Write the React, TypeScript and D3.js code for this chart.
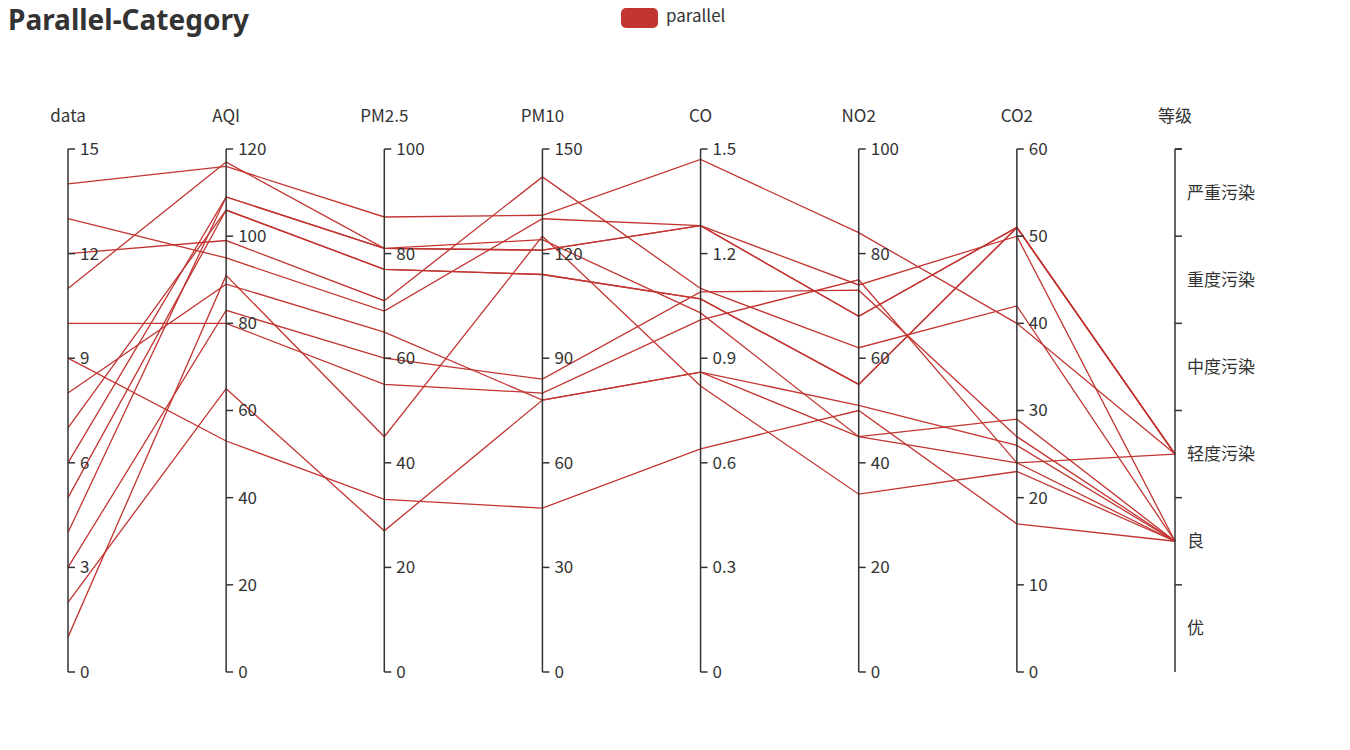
import React from 'react';
import * as d3 from 'd3';

const W = 1350;
const H = 750;

const dims = ['data', 'AQI', 'PM2.5', 'PM10', 'CO', 'NO2', 'CO2', '等级'];
const grades = ['优', '良', '轻度污染', '中度污染', '重度污染', '严重污染'];

const dayIdx = [1, 2, 3, 4, 5, 6, 7, 8, 9, 10, 11, 12, 13, 14];
const aqi = [91, 65, 83, 109, 106, 109, 106, 89, 53, 80, 117, 99, 95, 116];
const pm25 = [45, 27, 60, 81, 77, 81, 77, 65, 33, 55, 81, 71, 69, 87];
const pm10 = [125, 78, 84, 121, 114, 121, 114, 78, 47, 80, 124, 142, 130, 131];
const co = [0.82, 0.86, 1.09, 1.28, 1.07, 1.28, 1.07, 0.86, 0.64, 1.01, 1.03, 1.1, 1.28, 1.47];
const no2 = [34, 45, 73, 68, 55, 68, 55, 51, 50, 75, 45, 62, 74, 84];
const co2 = [23, 29, 27, 51, 51, 51, 51, 26, 17, 24, 24, 42, 50, 40];
const grade = ['良', '良', '良', '轻度污染', '轻度污染', '轻度污染', '轻度污染', '良', '良', '良', '轻度污染', '良', '良', '轻度污染'];

const maxes = [15, 120, 100, 150, 1.5, 100, 60];
const tickVals = [
  [0, 3, 6, 9, 12, 15],
  [0, 20, 40, 60, 80, 100, 120],
  [0, 20, 40, 60, 80, 100],
  [0, 30, 60, 90, 120, 150],
  [0, 0.3, 0.6, 0.9, 1.2, 1.5],
  [0, 20, 40, 60, 80, 100],
  [0, 10, 20, 30, 40, 50, 60],
];

const numeric = [dayIdx, aqi, pm25, pm10, co, no2, co2];

const FONT = '"Microsoft YaHei", "Noto Sans CJK SC", "Noto Sans", sans-serif';
const TXT = '#333';
const LINE = '#c23531';

export default function App() {
  const top = 149;
  const bottom = 672;
  const x = d3.scalePoint<string>().domain(dims).range([68, 1175]);
  const ys = maxes.map(m => d3.scaleLinear().domain([0, m]).range([bottom, top]));
  const yCat = d3.scaleBand<string>().domain(grades).range([bottom, top]);

  const line = d3.line<[number, number]>();
  const paths = dayIdx.map((_, i) => {
    const pts: [number, number][] = numeric.map((arr, k) => [x(dims[k])!, ys[k](arr[i])]);
    pts.push([x('等级')!, yCat(grade[i])! + yCat.bandwidth() / 2]);
    return line(pts)!;
  });

  return (
    <svg width={W} height={H} style={{ position: 'absolute', left: 0, top: 0, fontFamily: FONT }}>
      <rect width={W} height={H} fill="#fff" />
      <text x={8} y={30} fontSize={28} fontWeight="bold" fill={TXT} fontFamily='"Noto Sans", sans-serif'>Parallel-Category</text>
      <rect x={621} y={8} width={37} height={20} rx={5} fill={LINE} />
      <text x={666} y={22} fontSize={17} fill={TXT}>parallel</text>

      <g fill="none" stroke={LINE} strokeWidth={1.3}>
        {paths.map((d, i) => <path key={i} d={d} />)}
      </g>

      {dims.map((name, k) => {
        const ax = x(name)!;
        return (
          <g key={name}>
            <text x={ax} y={122} textAnchor="middle" fontSize={17} fill={TXT}>{name}</text>
            <line x1={ax} x2={ax} y1={top} y2={bottom} stroke={TXT} strokeWidth={1.5} />
            {k < 7 && tickVals[k].map(t => (
              <g key={t}>
                <line x1={ax} x2={ax + 7} y1={ys[k](t)} y2={ys[k](t)} stroke={TXT} strokeWidth={1.5} />
                <text x={ax + 12} y={ys[k](t)} dy="0.35em" fontSize={17} fill={TXT}>{String(t)}</text>
              </g>
            ))}
            {k === 7 && (
              <g>
                {[...grades.map(g => yCat(g)!), top].map((yy, j) => (
                  <line key={j} x1={ax} x2={ax + 7} y1={yy} y2={yy} stroke={TXT} strokeWidth={1.5} />
                ))}
                {grades.map(g => (
                  <text key={g} x={ax + 12} y={yCat(g)! + yCat.bandwidth() / 2} dy="0.35em" fontSize={17} fill={TXT}>{g}</text>
                ))}
              </g>
            )}
          </g>
        );
      })}
    </svg>
  );
}
